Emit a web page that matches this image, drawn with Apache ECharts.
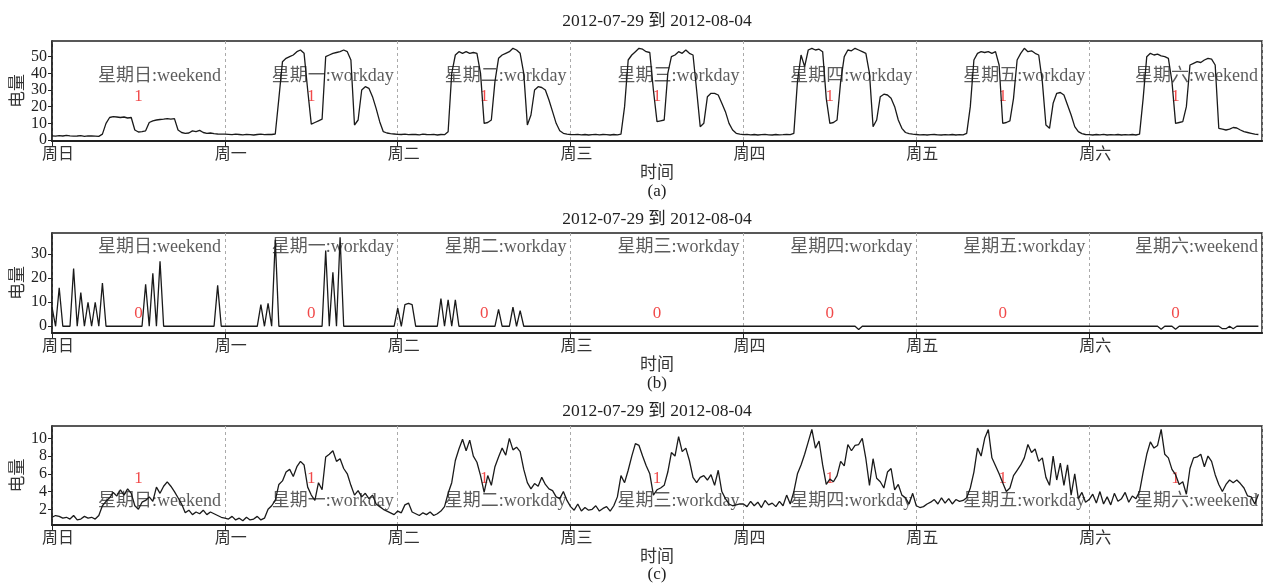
<!DOCTYPE html>
<html>
<head>
<meta charset="utf-8">
<script src="https://cdn.jsdelivr.net/npm/echarts@6/dist/echarts.min.js"></script>
<style>
html,body{margin:0;padding:0;background:#fff;}
#chart{width:1263px;height:583px;}
</style>
</head>
<body>
<div id="chart"></div>
<script>
// ---------------- data ----------------
const panelTitle = '2012-07-29 到 2012-08-04';
const panelTags = ['(a)', '(b)', '(c)'];
const xName = '时间';
const yName = '电量';
const dayTicks = ['周日', '周一', '周二', '周三', '周四', '周五', '周六'];
const dayNotes = ['星期日:weekend', '星期一:workday', '星期二:workday', '星期三:workday', '星期四:workday', '星期五:workday', '星期六:weekend'];
const flagsA = [1, 1, 1, 1, 1, 1, 1];
const flagsB = [0, 0, 0, 0, 0, 0, 0];
const flagsC = [1, 1, 1, 1, 1, 1, 1];
const yTicksA = [0, 10, 20, 30, 40, 50];
const yTicksB = [0, 10, 20, 30];
const yTicksC = [2, 4, 6, 8, 10];
const STEP_HOURS = 0.5; // one reading every half hour

// (a) half-hourly load, 2012-07-29 .. 2012-08-04
const loadA = [
  // Sun
  2.5,2.3,2.6,2.4,2.8,2.5,2.3,2.4,2.6,2.2,2.5,2.4,2.3,2.2,3.5,10,13.5,14,13.8,13.5,13.8,13.2,13.5,6,4.8,5,5.5,10.5,11.5,12,12.3,12.5,12.8,12.5,12.8,6,4.5,4,4.2,5.5,5,5.8,4.5,4,4.2,3.8,3.6,3.5,
  // Mon
  3.5,3.4,3.2,3.5,3.3,3.1,3.4,3.2,3.0,3.3,3.5,3.2,3.4,3.3,3.6,25,47,49,50,51,53,54,52,30,9.5,10.5,11.5,12.5,50,51,52,52.5,53,54,53,48,9,12,30,32,31,26,19,11,5,4.2,3.8,3.6,
  // Tue
  3.4,3.3,3.5,3.2,3.4,3.3,3.1,3.5,3.3,3.2,3.4,3.0,3.3,3.2,5,40,51,53,52,53,52,52.5,52,40,10,10.5,12,35,49,51,52,53,55,54,52,40,9,15,30,32,31.5,30,24,17,10,5.5,4,3.5,
  // Wed
  3.3,3.2,3.4,3.1,3.3,3.0,3.2,3.4,3.1,3.3,3.2,3.0,3.3,3.1,3.5,20,48,51,53,55,54.5,53,52.5,30,11,11.5,12,40,50,51,53,52,54,52,51,30,8,10,26,28,28,27,22,17,10,6,4,3.5,
  // Thu
  3.2,3.4,3.1,3.3,3.0,3.2,3.4,3.1,3.0,3.3,3.1,3.2,3.4,3.2,4,35,51,44,54,55,54,54.5,53,25,10,10.5,12,35,50,54,53.5,55,54,53,52,40,8,12,26,27.5,27,25,20,12,7,4.5,3.8,3.5,
  // Fri
  3.3,3.1,3.2,3.0,3.2,3.3,3.1,3.0,3.2,3.1,3.3,3.0,3.2,3.1,4,20,48,52,53,52.5,53,52,53,45,10,10.5,11.5,25,48,52,55,53,53.5,52,51,35,9,7,22,28,28.5,27,21,15,8,5,3.8,3.3,
  // Sat
  3.2,3.0,3.3,3.1,3.4,3.0,3.2,3.1,3.3,3.0,3.2,3.1,3.3,3.0,3.5,25,50,52,51,51.5,50.5,50,49,35,10,10.5,11,20,45,46,47,46.5,48,49,48.5,45,7,6.5,6,6.5,7.5,7.2,6,5,4.5,4,3.5,3.3
];

// (b) half-hourly load
const loadB = [
  // Sun
  8,0,16,0,0,0,24,0,14,0,10,0,10,0,18,0,0,0,0,0,0,0,0,0,0,0,17.5,0,22,0,27,0,0,0,0,0,0,0,0,0,0,0,0,0,0,0,17,0,
  // Mon
  0,0,0,0,0,0,0,0,0,0,9,0,9.5,0,36,0,0,0,0,0,0,0,0,0,0,0,0,0,31.5,0,22.5,0,37,0,0,0,0,0,0,0,0,0,0,0,0,0,0,0,
  // Tue
  7.5,0,9,9.5,9,0,0,0,0,0,0,0,11.5,0,11,0,11,0,0,0,0,0,0,0,0,0,0,0,7,0,0,0,8,0,6.5,0,0,0,0,0,0,0,0,0,0,0,0,0,
  // Wed
  0,0,0,0,0,0,0,0,0,0,0,0,0,0,0,0,0,0,0,0,0,0,0,0,0,0,0,0,0,0,0,0,0,0,0,0,0,0,0,0,0,0,0,0,0,0,0,0,
  // Thu
  0,0,0,0,0,0,0,0,0,0,0,0,0,0,0,0,0,0,0,0,0,0,0,0,0,0,0,0,0,0,0,0,-1.3,0,0,0,0,0,0,0,0,0,0,0,0,0,0,0,
  // Fri
  0,0,0,0,0,0,0,0,0,0,0,0,0,0,0,0,0,0,0,0,0,0,0,0,0,0,0,0,0,0,0,0,0,0,0,0,0,0,0,0,0,0,0,0,0,0,0,0,
  // Sat
  0,0,0,0,0,0,0,0,0,0,0,0,0,0,0,0,0,0,0,0,-1.2,0,0,0,-1.2,0,0,0,0,0,0,0,0,0,0,0,0,-1,-1,0,-1,0,0,0,0,0,0,0
];

// (c) half-hourly load
const loadC = [
  // Sun
  1.1,1.3,1.2,1.0,1.1,0.9,1.3,0.8,0.9,1.2,1.0,1.1,0.9,1.3,2.4,2.9,3.3,3.9,3.5,4.2,3.6,4.3,3.8,2.4,2.0,2.8,3.0,3.4,2.9,4.5,3.8,4.6,5.1,4.6,4.0,3.3,2.6,1.6,1.9,1.4,1.7,1.5,1.9,1.4,1.7,1.5,1.3,1.1,
  // Mon
  1.0,0.9,1.2,0.8,1.0,0.7,1.1,0.8,0.9,1.2,0.8,1.0,2.0,2.4,3.0,4.8,5.2,6.2,6.5,5.7,6.8,7.4,7.0,4.5,3.6,3.0,5.0,4.2,7.9,8.2,8.6,7.4,7.7,6.6,6.0,4.7,3.6,4.1,3.4,3.8,3.2,3.6,2.6,2.3,2.0,1.8,1.6,1.4,
  // Tue
  1.8,1.6,2.5,2.7,1.7,1.5,1.3,1.6,1.4,1.7,1.3,1.5,1.8,2.3,3.8,5.0,7.5,8.8,9.9,8.6,9.8,8.0,7.3,5.8,3.9,5.8,4.7,6.8,7.9,8.9,8.1,10.0,8.7,9.0,8.5,6.5,5.0,4.3,4.9,4.6,5.6,4.8,4.3,4.1,3.4,3.2,4.0,3.0,
  // Wed
  2.3,1.9,2.6,1.8,2.2,1.9,2.0,2.4,1.8,2.1,2.3,1.8,2.4,3.4,5.8,5.0,6.4,8.0,9.4,9.2,8.0,6.9,6.0,3.6,4.2,4.4,4.7,6.2,8.4,8.0,10.2,8.5,8.9,7.5,5.6,5.0,5.6,5.8,5.3,5.9,4.7,6.4,4.0,3.2,2.6,2.4,2.5,2.6,
  // Thu
  2.6,2.3,2.9,2.4,2.8,2.2,3.0,2.5,2.7,2.3,2.9,2.4,3.6,2.6,4.0,6.0,7.0,8.2,9.6,11.0,8.9,9.7,7.0,4.8,5.4,5.1,5.8,7.4,6.9,9.3,8.6,9.2,9.3,10.0,7.7,4.7,7.7,5.5,5.1,4.4,6.2,6.6,4.2,4.8,3.6,3.3,2.6,3.8,
  // Fri
  2.4,2.2,2.3,2.6,2.8,3.1,2.6,3.3,2.7,3.2,2.6,3.1,2.9,3.0,3.3,4.4,6.2,8.9,8.0,10.0,11.0,7.8,6.9,6.0,5.0,4.0,4.4,5.8,6.4,7.0,7.8,9.3,8.4,8.8,7.4,7.8,5.6,4.7,8.0,5.3,7.2,4.7,7.0,3.6,6.0,3.2,3.9,2.8,
  // Sat
  3.1,3.7,2.7,4.0,2.6,3.4,2.5,3.8,2.9,3.2,3.9,2.8,3.5,3.2,4.0,6.2,8.2,9.6,8.9,9.2,11.0,8.2,7.8,6.5,5.9,4.8,5.1,3.7,6.6,7.8,7.9,8.2,6.8,8.0,7.4,5.9,4.8,4.0,4.8,5.3,5.0,5.3,4.9,4.4,3.5,3.4,2.6,3.7
];

// ---------------- layout ----------------
const FONT = "'Liberation Serif','Noto Sans CJK SC',serif";
const GRID_LEFT = 52, GRID_RIGHT = 1;
const panels = [
  { load: loadA, flags: flagsA, yTicks: yTicksA, top: 41,  height: 100, yMin: -0.6, yMax: 59.4, noteY: 38,  flagY: 26,  titleY: 21,  tagY: 192 },
  { load: loadB, flags: flagsB, yTicks: yTicksB, top: 233, height: 100, yMin: -2.8, yMax: 38.8, noteY: 33,  flagY: 5.3, titleY: 219, tagY: 384 },
  { load: loadC, flags: flagsC, yTicks: yTicksC, top: 426, height: 99,  yMin: 0.23, yMax: 11.39, noteY: 2.94, flagY: 5.5, titleY: 411, tagY: 575 }
];
const centerX = GRID_LEFT + (1263 - GRID_LEFT - GRID_RIGHT) / 2;

const grids = [], xAxes = [], yAxes = [], series = [], graphics = [];
panels.forEach((p, k) => {
  grids.push({ left: GRID_LEFT, right: GRID_RIGHT, top: p.top, height: p.height, show: true,
    containLabel: false, outerBoundsMode: 'none',
    borderColor: '#222', borderWidth: 1.5, backgroundColor: 'transparent' });
  xAxes.push({
    type: 'value', gridIndex: k, min: 0, max: 24 * dayTicks.length, interval: 24,
    axisLine: { show: true, onZero: false, lineStyle: { color: '#222', width: 2 } },
    axisTick: { show: true, inside: false, length: 5, lineStyle: { color: '#222' } },
    axisLabel: { formatter: v => dayTicks[Math.round(v / 24)] || '', fontSize: 16, color: '#333',
      fontFamily: FONT, margin: 6, padding: [0, 0, 0, 12], showMinLabel: true, showMaxLabel: false },
    splitLine: { show: true, lineStyle: { type: [3, 3], color: '#aaa', width: 1 } },
    name: xName, nameLocation: 'middle', nameGap: 24, nameMoveOverlap: false,
    nameTextStyle: { fontSize: 17, color: '#333', fontFamily: FONT }
  });
  yAxes.push({
    type: 'value', gridIndex: k, min: p.yMin, max: p.yMax,
    axisLine: { show: true, onZero: false, lineStyle: { color: '#222', width: 1.5 } },
    axisTick: { show: true, inside: false, length: 4, customValues: p.yTicks, lineStyle: { color: '#222' } },
    axisLabel: { customValues: p.yTicks, fontSize: 16, lineHeight: 12, color: '#222', fontFamily: FONT, margin: 5,
      showMinLabel: true, showMaxLabel: true, hideOverlap: false },
    splitLine: { show: false },
    name: yName, nameLocation: 'middle', nameGap: 24.5, nameMoveOverlap: false,
    nameTextStyle: { fontSize: 17, color: '#333', fontFamily: FONT }
  });
  series.push({
    type: 'line', xAxisIndex: k, yAxisIndex: k, symbol: 'none', z: 3, silent: true,
    lineStyle: { color: '#1a1a1a', width: 1.3 },
    data: p.load.map((v, i) => [i * STEP_HOURS, v])
  });
  series.push({
    type: 'scatter', xAxisIndex: k, yAxisIndex: k, symbolSize: 1, z: 2, silent: true,
    itemStyle: { color: 'rgba(0,0,0,0)' },
    label: { show: true, formatter: '{b}', position: 'inside', align: 'right', verticalAlign: 'middle',
      fontSize: 18, fontFamily: FONT, color: '#333' },
    data: dayNotes.map((t, d) => ({ name: t, value: [(d + 1) * 24 - 0.55, p.noteY] }))
  });
  series.push({
    type: 'scatter', xAxisIndex: k, yAxisIndex: k, symbolSize: 1, z: 2, silent: true,
    itemStyle: { color: 'rgba(0,0,0,0)' },
    label: { show: true, formatter: '{b}', position: 'inside', align: 'center', verticalAlign: 'middle',
      fontSize: 17, fontFamily: FONT, color: '#ee1c1c' },
    data: p.flags.map((f, d) => ({ name: String(f), value: [d * 24 + 12, p.flagY] }))
  });
  graphics.push({ type: 'text', x: centerX, y: p.titleY, silent: true,
    style: { text: panelTitle, fontSize: 17.5, fontFamily: FONT, fill: '#222', align: 'center', verticalAlign: 'middle' } });
  graphics.push({ type: 'text', x: centerX, y: p.tagY, silent: true,
    style: { text: panelTags[k], fontSize: 17, fontFamily: FONT, fill: '#222', align: 'center', verticalAlign: 'middle' } });
});

const chart = echarts.init(document.getElementById('chart'), null, { renderer: 'canvas' });
chart.setOption({
  animation: false,
  backgroundColor: '#fff',
  textStyle: { fontFamily: FONT },
  grid: grids,
  xAxis: xAxes,
  yAxis: yAxes,
  series: series,
  graphic: graphics
});
</script>
</body>
</html>
